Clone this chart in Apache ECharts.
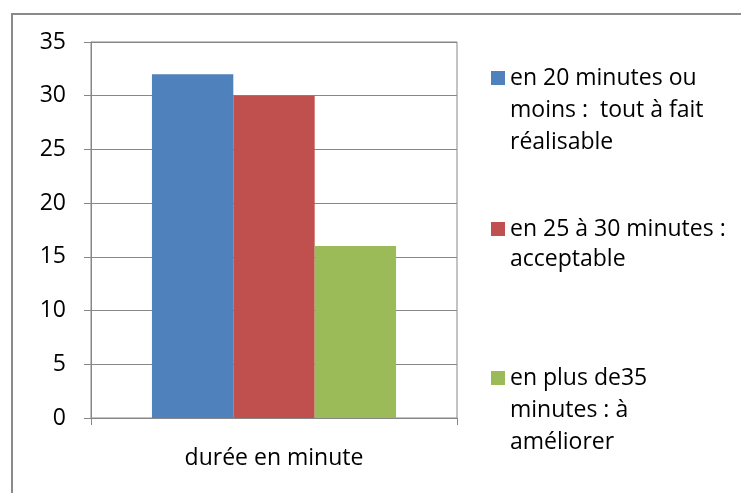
<!DOCTYPE html>
<html>
<head>
<meta charset="utf-8">
<script src="https://cdn.jsdelivr.net/npm/echarts@6/dist/echarts.min.js"></script>
<style>
  html, body { margin: 0; padding: 0; background: #fff; }
  #chart { width: 741px; height: 493px; position: absolute; left: 0; top: 0; }
  #frame { position: absolute; left: 11px; top: 13px; width: 760px; height: 500px;
           border-left: 2px solid #8a8a8a; border-top: 2px solid #8a8a8a; pointer-events: none; }
</style>
</head>
<body>
<div id="chart"></div>
<div id="frame"></div>
<script>
const categories = ['durée en minute'];
const seriesNames = [
  'en 20 minutes ou moins :  tout à fait réalisable',
  'en 25 à 30 minutes : acceptable',
  'en plus de35 minutes : à améliorer'
];
const legendLines = [
  ['en 20 minutes ou', 'moins :  tout à fait', 'réalisable'],
  ['en 25 à 30 minutes :', 'acceptable'],
  ['en plus de35', 'minutes : à', 'améliorer']
];
const seriesValues = [[32], [30], [16]];
const colors = ['#4F81BD', '#C0504D', '#9BBB59'];
const yTicks = { min: 0, max: 35, interval: 5 };

const FONT = '"Open Sans"';
const FS = 23;
const gridColor = '#878787';
const legendIconCenters = [78, 229, 378];
const legendLineHeights = [32, 30, 32];

const chart = echarts.init(document.getElementById('chart'), null, { renderer: 'canvas' });

const legends = seriesNames.map((name, i) => {
  const n = legendLines[i].length;
  const lh = legendLineHeights[i];
  const half = (2 * n - 1) * lh / 2;
  // leading blank lines keep the first text line level with the marker
  const text = new Array(n - 1).fill(' ').concat(legendLines[i]).join('\n');
  return {
    data: [name],
    left: 491,
    top: legendIconCenters[i] - half,
    padding: 0,
    itemWidth: 14,
    itemHeight: 14,
    icon: 'rect',
    selectedMode: false,
    formatter: () => text,
    textStyle: { fontFamily: FONT, fontSize: FS, color: '#000', lineHeight: lh }
  };
});

chart.setOption({
  animation: false,
  color: colors,
  textStyle: { fontFamily: FONT },
  grid: {
    left: 91, right: 284, top: 42, bottom: 75,
    show: true, borderColor: gridColor, borderWidth: 1, backgroundColor: 'transparent'
  },
  legend: legends,
  xAxis: {
    type: 'category',
    data: categories,
    axisLine: { lineStyle: { color: gridColor, width: 1 } },
    axisTick: { show: true, length: 7, lineStyle: { color: gridColor } },
    axisLabel: { color: '#000', fontFamily: FONT, fontSize: FS, margin: 29 }
  },
  yAxis: {
    type: 'value',
    min: yTicks.min, max: yTicks.max, interval: yTicks.interval,
    axisLine: { show: true, lineStyle: { color: gridColor, width: 1 } },
    axisTick: { show: true, length: 7, lineStyle: { color: gridColor } },
    splitLine: { show: true, lineStyle: { color: gridColor, width: 1 } },
    axisLabel: { color: '#000', fontFamily: FONT, fontSize: FS, margin: 25 }
  },
  series: seriesNames.map((name, i) => ({
    name: name,
    type: 'bar',
    data: seriesValues[i],
    barGap: '0%',
    barCategoryGap: '33.3%',
    itemStyle: { color: colors[i] }
  }))
});
</script>
</body>
</html>
